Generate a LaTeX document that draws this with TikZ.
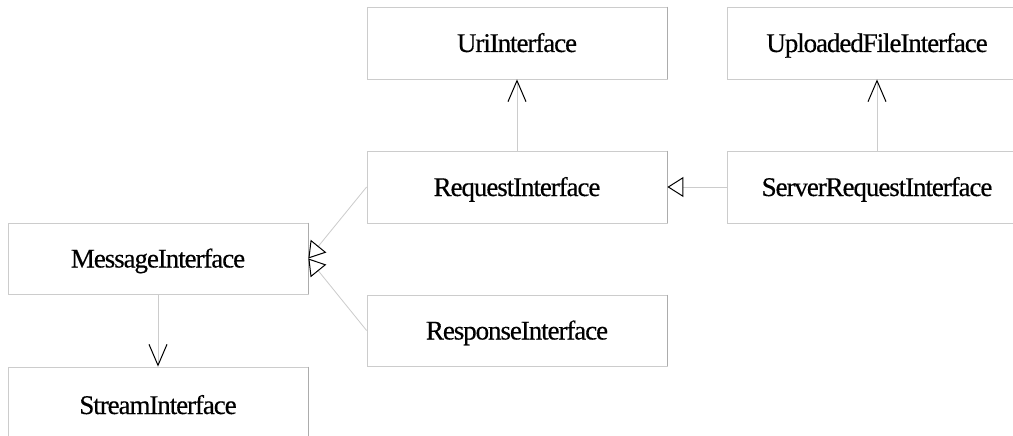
\documentclass[tikz,border=0pt]{standalone}
\usepackage{fontspec}
\setmainfont{Liberation Serif}[LetterSpace=-4, FakeBold=0.4]
\usetikzlibrary{arrows.meta}
\begin{document}
\begin{tikzpicture}[x=1pt,y=-1pt,
  every node/.style={font=\fontsize{27}{32}\selectfont, inner sep=0pt, text height=18pt, text depth=0pt},
  umlbox/.style={draw=gray!40, line width=0.8pt, minimum width=300pt, minimum height=72pt},
  conn/.style={draw=gray!40, line width=0.8pt},
  assoc/.style={conn, -{Straight Barb[color=black, length=21pt, width=18pt, line width=1pt]}},
  inherit/.style={conn, -{Triangle[open, color=black, length=16pt, width=20pt, line width=1pt]}}]
\useasboundingbox (0,0) rectangle (1013,436);
\fill[white] (0,0) rectangle (1013,436);
\clip (0,0) rectangle (1013,436);
% nodes
\node[umlbox] (uri) at (517,43) {UriInterface};
\node[umlbox] (upl) at (877,43) {UploadedFileInterface};
\node[umlbox] (req) at (517,187) {RequestInterface};
\node[umlbox] (srv) at (877,187) {ServerRequestInterface};
\node[umlbox, minimum height=71pt] (msg) at (158,258.5) {MessageInterface};
\node[umlbox, minimum height=76pt] (stream) at (158,405) {StreamInterface};
\node[umlbox, minimum height=71pt] (resp) at (517,330.5) {ResponseInterface};
% darker right edges
\foreach \n in {uri,req,msg,stream,resp}
  \draw[draw=gray!65, line width=0.8pt] (\n.north east) -- (\n.south east);
% connectors
\draw[assoc] (req.north) -- (uri.south);
\draw[assoc] (srv.north) -- (upl.south);
\draw[inherit] (srv.west) -- (req.east);
\draw[inherit] (req.west) -- (msg.east);
\draw[inherit] (resp.west) -- (msg.east);
\draw[assoc] (msg.south) -- (stream.north);
\end{tikzpicture}
\end{document}
